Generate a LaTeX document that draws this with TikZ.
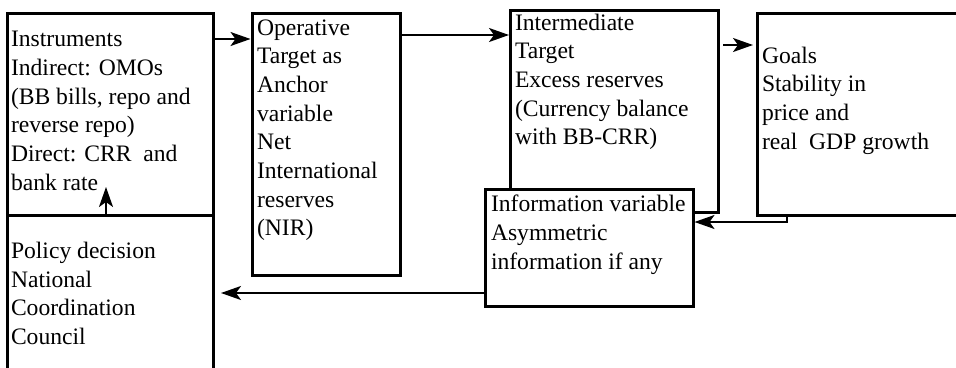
\documentclass[tikz,border=0pt]{standalone}
\usepackage{fontspec}
\setmainfont{Liberation Serif}
\usetikzlibrary{arrows.meta,calc}
\begin{document}
\begin{tikzpicture}[x=1pt,y=-1pt,
  box/.style={draw, rectangle, line width=3pt, fill=white, inner sep=0pt, outer sep=0pt, anchor=north west},
  txt/.style={anchor=base west, inner sep=0pt, outer sep=0pt, font=\fontsize{23.6}{28.7}\selectfont},
  arr/.style={line width=2pt, -{Stealth[length=20pt,width=14pt,inset=5pt]}}]
\useasboundingbox (0,0) rectangle (956,367);
\clip (0,0) rectangle (956,367);

% boxes (north-west corner, width, height)
\node[box, minimum width=206pt, minimum height=202pt] (ins) at (7,13) {};
\node[box, minimum width=206pt, minimum height=180pt] (pol) at (7,215) {};
\node[box, minimum width=148pt, minimum height=262pt] (ope) at (252,13) {};
\node[box, minimum width=208pt, minimum height=202pt] (int) at (510,10) {};
\node[box, minimum width=208pt, minimum height=117pt] (inf) at (485,189) {};
\node[box, minimum width=210pt, minimum height=202pt] (goa) at (757,13) {};

% texts
\node[txt] (tins) at (11,46.7) {\parbox[t]{200pt}{\raggedright Instruments\\Indirect: OMOs\\(BB bills, repo and\\reverse repo)\\Direct: CRR\ \ and\\bank rate}};
\node[txt] (tpol) at (11,258.3) {\parbox[t]{200pt}{\raggedright Policy decision\\National\\Coordination\\Council}};
\node[txt] (tope) at (257,35) {\parbox[t]{140pt}{\raggedright Operative\\Target as\\Anchor\\variable\\Net\\International\\reserves\\(NIR)}};
\node[txt] (tint) at (515,30) {\parbox[t]{200pt}{\raggedright Intermediate\\Target\\Excess reserves\\(Currency balance\\with BB-CRR)}};
\node[txt] (tinf) at (491,211.7) {\parbox[t]{200pt}{\raggedright Information variable\\Asymmetric\\information if any}};
\node[txt] (tgoa) at (762,63) {\parbox[t]{190pt}{\raggedright Goals\\Stability in\\price and\\real\ \ GDP growth}};

% connectors
\coordinate (a1) at ($(ins.north east)+(0,26)$);
\draw[arr] (a1) -- ($(a1 -| ope.west)+(-1.5,0)$);

\coordinate (a2) at ($(ope.north east)+(0,22)$);
\draw[arr] (a2) -- ($(a2 -| int.west)+(-1,0)$);

\coordinate (a3) at ($(int.north east)+(5,35)$);
\coordinate (a3e) at ($(goa.north west)+(-4,32)$);
\draw[arr] (a3) -- (a3e);

\coordinate (a4) at ($(goa.south west)+(30,0)$);
\coordinate (a4b) at ($(a4)+(0,7)$);
\draw[arr] (a4) -- (a4b) -- ($(a4b -| inf.east)+(1.5,0)$);

\coordinate (a5) at ($(inf.north west)+(0,104)$);
\draw[arr] (a5) -- ($(a5 -| pol.east)+(8,0)$);

\coordinate (a6) at ($(pol.north west)+(99,0)$);
\coordinate (a6e) at ($(a6)+(0,-28)$);
\draw[arr] (a6) -- (a6e);
\end{tikzpicture}
\end{document}
